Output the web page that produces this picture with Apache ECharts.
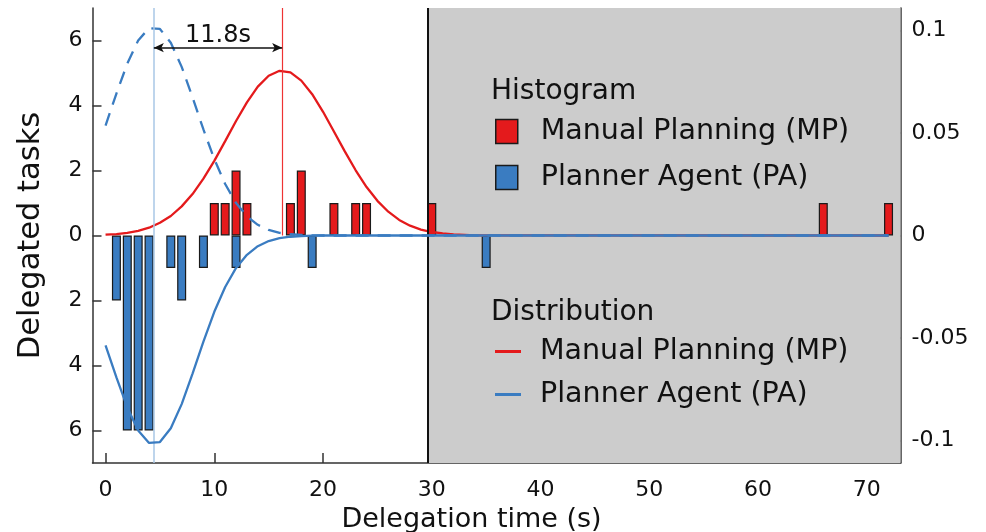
<!DOCTYPE html>
<html>
<head>
<meta charset="utf-8">
<script src="https://cdn.jsdelivr.net/npm/echarts@6/dist/echarts.min.js"></script>
<style>
  html, body { margin: 0; padding: 0; background: #ffffff; }
  #chart { width: 986px; height: 532px; }
</style>
</head>
<body>
<div id="chart"></div>
<script>
// Histogram of delegation times (1 s bins), counts per bin
const mpBinCenters = [10, 11, 12, 13, 17, 18, 21, 23, 24, 30, 66, 72];
const mpCounts     = [1, 1, 2, 1, 1, 2, 1, 1, 1, 1, 1, 1];
const paBinCenters = [1, 2, 3, 4, 6, 7, 9, 12, 19, 35];
const paCounts     = [2, 6, 6, 6, 1, 2, 1, 1, 1, 1];   // drawn below the axis

// Fitted distributions (density, right axis), sampled at whole seconds
const mpDensityX = [0, 1, 2, 3, 4, 5, 6, 7, 8, 9, 10, 11, 12, 13, 14, 15, 16, 17, 18, 19,
                    20, 21, 22, 23, 24, 25, 26, 27, 28, 29, 30, 31, 32, 33, 34, 35, 72];
const mpDensity  = [0.0004, 0.0007, 0.0013, 0.0023, 0.0038, 0.0062, 0.0095, 0.0142, 0.0202, 0.0277,
                    0.0364, 0.0460, 0.0558, 0.0649, 0.0726, 0.0779, 0.0803, 0.0795, 0.0755, 0.0689,
                    0.0603, 0.0507, 0.0410, 0.0318, 0.0236, 0.0169, 0.0116, 0.0076, 0.0048, 0.0029,
                    0.0017, 0.0010, 0.0005, 0.0003, 0.0001, 0.0001, 0];
const paDensityX = [0, 1, 2, 3, 4, 5, 6, 7, 8, 9, 10, 11, 12, 13, 14, 15, 16, 17, 18, 19, 20, 72];
const paDensity  = [0.0536, 0.0692, 0.0838, 0.0951, 0.1011, 0.1007, 0.0940, 0.0822, 0.0673, 0.0517,
                    0.0372, 0.0251, 0.0158, 0.0094, 0.0052, 0.0027, 0.0013, 0.0006, 0.0003, 0.0001, 0, 0];

// Means and annotation
const paMean = 4.44;
const mpMean = 16.24;
const meanGapLabel = '11.8s';
const cutoffTime = 29.6;

// Axis ranges and tick labels
const xRange = [-1.2, 73.1];
const countRange = [-7, 7];
const densityRange = [-0.1109, 0.1109];
const xTicks = [0, 10, 20, 30, 40, 50, 60, 70];
const countTicks = [-6, -4, -2, 0, 2, 4, 6];
const densityTicks = [-0.1, -0.05, 0, 0.05, 0.1];

const legendNames = {
  'MP histogram': 'Manual Planning (MP)',
  'PA histogram': 'Planner Agent (PA)',
  'MP distribution': 'Manual Planning (MP)',
  'PA distribution': 'Planner Agent (PA)'
};

const RED = '#e41a1c';
const BLUE = '#3a7cc1';
const FONT = 'DejaVu Sans';

const zip = (xs, ys, sign) => xs.map((x, i) => [x, sign * ys[i]]);

const axisLineStyle = { color: '#333333', width: 1.5 };

const chart = echarts.init(document.getElementById('chart'), null, { renderer: 'canvas' });

chart.setOption({
  animation: false,
  textStyle: { fontFamily: FONT, color: '#000' },
  grid: { left: 92.5, right: 85.5, top: 8, bottom: 69, containLabel: false, outerBoundsMode: 'none' },
  title: [
    { text: 'Histogram', left: 491, top: 78, padding: 0,
      textStyle: { fontFamily: FONT, fontSize: 28, fontWeight: 'normal', color: '#111' } },
    { text: 'Distribution', left: 491, top: 299, padding: 0,
      textStyle: { fontFamily: FONT, fontSize: 28, fontWeight: 'normal', color: '#111' } }
  ],
  legend: [
    {
      data: ['MP histogram', 'PA histogram'],
      orient: 'vertical', left: 495, top: 117, padding: 0,
      icon: 'rect',
      itemWidth: 22, itemHeight: 24, itemGap: 17,
      formatter: n => legendNames[n],
      selectedMode: false,
      itemStyle: { borderColor: '#1a1a1a', borderWidth: 1.5 },
      textStyle: { fontFamily: FONT, fontSize: 28.5, color: '#111', padding: [0, 0, 0, 18] }
    },
    {
      data: ['MP distribution', 'PA distribution'],
      orient: 'vertical', left: 495, top: 337, padding: 0,
      icon: 'rect',
      itemWidth: 26, itemHeight: 3, itemGap: 14,
      formatter: n => legendNames[n],
      selectedMode: false,
      textStyle: { fontFamily: FONT, fontSize: 28.5, color: '#111', padding: [0, 0, 0, 14] }
    }
  ],
  xAxis: {
    type: 'value', min: xRange[0], max: xRange[1],
    name: 'Delegation time (s)', nameLocation: 'middle', nameGap: 43,
    nameTextStyle: { fontFamily: FONT, fontSize: 27, color: '#111', padding: [0, 50, 0, 0] },
    axisLine: { show: true, onZero: false, lineStyle: axisLineStyle },
    axisTick: { show: true, inside: true, length: 10, customValues: xTicks, lineStyle: axisLineStyle },
    axisLabel: { customValues: xTicks, fontSize: 22, margin: 16, color: '#111', fontFamily: FONT },
    splitLine: { show: false }
  },
  yAxis: [
    {
      type: 'value', min: countRange[0], max: countRange[1], position: 'left',
      name: 'Delegated tasks', nameLocation: 'middle', nameGap: 46, nameRotate: 90,
      nameTextStyle: { fontFamily: FONT, fontSize: 30.5, color: '#111' },
      axisLine: { show: true, onZero: false, lineStyle: axisLineStyle },
      axisTick: { show: true, inside: true, length: 9, customValues: countTicks, lineStyle: axisLineStyle },
      axisLabel: { customValues: countTicks, fontSize: 22, margin: 10, color: '#111', fontFamily: FONT,
                   formatter: v => String(Math.abs(v)) },
      splitLine: { show: false }
    },
    {
      type: 'value', min: densityRange[0], max: densityRange[1], position: 'right',
      axisLine: { show: true, onZero: false, lineStyle: axisLineStyle },
      axisTick: { show: true, inside: true, length: 9, customValues: densityTicks, lineStyle: axisLineStyle },
      axisLabel: { customValues: densityTicks, fontSize: 22, margin: 11, color: '#111', fontFamily: FONT,
                   formatter: v => String(Math.round(v * 100) / 100) },
      splitLine: { show: false }
    }
  ],
  series: [
    {
      // shaded range beyond the cutoff and its divider
      name: 'cutoff', type: 'line', data: [], z: 1, silent: true,
      markArea: {
        silent: true,
        itemStyle: { color: '#cccccc' },
        data: [[{ xAxis: cutoffTime }, { xAxis: xRange[1] }]]
      },
      markLine: {
        silent: true, symbol: 'none', animation: false,
        label: { show: false },
        lineStyle: { color: '#111111', width: 2, type: 'solid' },
        data: [[{ coord: [cutoffTime, countRange[0]] }, { coord: [cutoffTime, countRange[1]] }]]
      }
    },
    {
      name: 'MP histogram', type: 'bar', z: 3,
      data: zip(mpBinCenters, mpCounts, 1),
      barWidth: 9, barGap: '-100%',
      itemStyle: { color: RED, borderColor: '#1a1a1a', borderWidth: 1.2 }
    },
    {
      name: 'PA histogram', type: 'bar', z: 3,
      data: zip(paBinCenters, paCounts, -1),
      barWidth: 9, barGap: '-100%',
      itemStyle: { color: BLUE, borderColor: '#1a1a1a', borderWidth: 1.2 }
    },
    {
      name: 'MP distribution', type: 'line', yAxisIndex: 1, z: 4,
      data: zip(mpDensityX, mpDensity, 1),
      symbol: 'none', smooth: false,
      lineStyle: { color: RED, width: 2.3 },
      itemStyle: { color: RED },
      markLine: {
        silent: true, symbol: 'none',
        label: { show: false },
        lineStyle: { color: '#ee3333', width: 1.2, type: 'solid' },
        data: [[{ coord: [mpMean, 0] }, { coord: [mpMean, densityRange[1]] }]]
      }
    },
    {
      name: 'PA dashed', type: 'line', yAxisIndex: 1, z: 4,
      data: zip(paDensityX, paDensity, 1),
      symbol: 'none',
      lineStyle: { color: BLUE, width: 2.3, type: [13, 9] },
      markLine: {
        silent: true, symbol: 'none',
        label: { show: false },
        lineStyle: { color: '#a9c7e6', width: 1.5, type: 'solid' },
        data: [[{ coord: [paMean, densityRange[0]] }, { coord: [paMean, densityRange[1]] }]]
      }
    },
    {
      name: 'PA distribution', type: 'line', yAxisIndex: 1, z: 5,
      data: zip(paDensityX, paDensity, -1),
      symbol: 'none',
      lineStyle: { color: BLUE, width: 2.3 },
      itemStyle: { color: BLUE }
    },
    {
      // arrow between the two means
      name: 'gap', type: 'line', data: [], z: 6, silent: true,
      markLine: {
        silent: true,
        symbol: ['arrow', 'arrow'], symbolSize: [7, 10],
        lineStyle: { color: '#111111', width: 1.5, type: 'solid' },
        label: {
          show: true, position: 'middle', formatter: meanGapLabel,
          fontFamily: FONT, fontSize: 24, color: '#111', distance: 0
        },
        data: [[{ coord: [paMean, 5.78] }, { coord: [mpMean, 5.78] }]]
      }
    }
  ]
});
</script>
</body>
</html>
